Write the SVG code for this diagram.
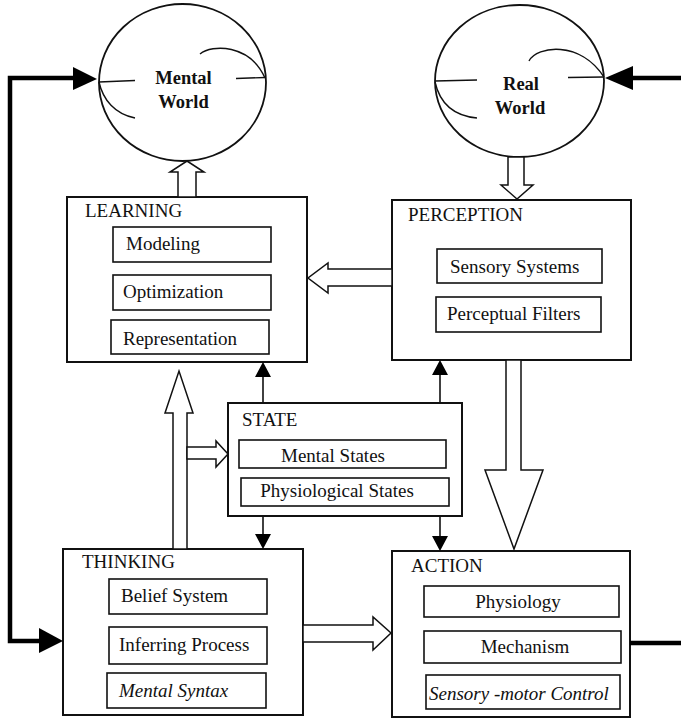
<svg xmlns="http://www.w3.org/2000/svg" width="681" height="719" viewBox="0 0 681 719">
<style>
text{font-family:"Liberation Serif","Times New Roman",serif;font-size:19px;fill:#111}
.b{font-weight:bold;font-size:18.5px}
.i{font-style:italic}
.box{fill:#fff;stroke:#111;stroke-width:2}
.sub{fill:#fff;stroke:#111;stroke-width:1.6}
.open{fill:#fff;stroke:#111;stroke-width:1.5;stroke-linejoin:miter}
.thin{stroke:#111;stroke-width:1.6;fill:none}
.thick{stroke:#000;stroke-width:4.5;fill:none}
.head{fill:#000}
.globe{fill:#fff;stroke:#111;stroke-width:1.8}
.curve{fill:none;stroke:#111;stroke-width:1.4}
</style>
<g id="mental-world">
<ellipse class="globe" cx="182.5" cy="82.5" rx="83.5" ry="78.5"/>
<path class="curve" d="M99,82 L135,80.5"/>
<path class="curve" d="M236,78.5 L265,77.5"/>
<path class="curve" d="M200,54 C212,44 250,44 265,78"/>
<path class="curve" d="M99,82 C103,100 115,114 135,118"/>
<text class="b" x="183.5" y="84" text-anchor="middle">Mental</text>
<text class="b" x="183.5" y="108" text-anchor="middle">World</text>
</g>
<g id="real-world">
<ellipse class="globe" cx="519.5" cy="81" rx="84.5" ry="76"/>
<path class="curve" d="M435,81 L477,80"/>
<path class="curve" d="M568,77.5 L604,77"/>
<path class="curve" d="M529,61 C537,46 580,40 604,77"/>
<path class="curve" d="M435,82 C440,104 455,116 477,118"/>
<text class="b" x="521" y="90" text-anchor="middle">Real</text>
<text class="b" x="520" y="114" text-anchor="middle">World</text>
</g>
<g id="learning">
<rect class="box" x="67" y="197" width="240" height="165"/>
<text x="85" y="217">LEARNING</text>
<rect class="sub" x="113" y="227" width="158" height="35"/>
<text x="126" y="250">Modeling</text>
<rect class="sub" x="113" y="275" width="158" height="35"/>
<text x="123" y="298">Optimization</text>
<rect class="sub" x="111" y="320" width="158" height="34"/>
<text x="123" y="345">Representation</text>
</g>
<g id="perception">
<rect class="box" x="392" y="200" width="239" height="160"/>
<text x="408" y="221">PERCEPTION</text>
<rect class="sub" x="437" y="249" width="165" height="34"/>
<text x="450" y="273">Sensory Systems</text>
<rect class="sub" x="436" y="297" width="165" height="35"/>
<text x="447" y="320">Perceptual Filters</text>
</g>
<g id="state">
<rect class="box" x="228" y="403" width="234" height="113"/>
<text x="242" y="426">STATE</text>
<rect class="sub" x="239" y="440" width="207" height="28"/>
<text x="333" y="462" text-anchor="middle">Mental States</text>
<rect class="sub" x="241" y="478" width="208" height="28"/>
<text x="337" y="497" text-anchor="middle">Physiological States</text>
</g>
<g id="thinking">
<rect class="box" x="63" y="549" width="240" height="166"/>
<text x="82" y="568">THINKING</text>
<rect class="sub" x="109" y="579" width="158" height="35"/>
<text x="121" y="602">Belief System</text>
<rect class="sub" x="109" y="627" width="158" height="37"/>
<text x="119" y="651">Inferring Process</text>
<rect class="sub" x="107" y="673" width="159" height="35"/>
<text class="i" x="119" y="697">Mental Syntax</text>
</g>
<g id="action">
<rect class="box" x="392" y="551" width="238" height="166"/>
<text x="411" y="572">ACTION</text>
<rect class="sub" x="424" y="586" width="195" height="31"/>
<text x="518" y="608" text-anchor="middle">Physiology</text>
<rect class="sub" x="424" y="631" width="197" height="32"/>
<text x="525" y="653" text-anchor="middle">Mechanism</text>
<rect class="sub" x="426" y="675" width="194" height="34"/>
<text class="i" x="429" y="700">Sensory -motor Control</text>
</g>
<g id="connectors">
<polygon class="open" points="178,197 178,172 170,172 187,161 204,172 196,172 196,197"/>
<polygon class="open" points="508,157 508,185 501,185 517,199 533,185 524,185 524,157"/>
<polygon class="open" points="392,269 328,269 328,263 308,278 328,293 328,286 392,286"/>
<polygon class="open" points="506,360 506,470 485,470 514,549 543,470 521,470 521,360"/>
<polygon class="open" points="173,549 173,413 165,413 179,371 193,413 187,413 187,549"/>
<polygon class="open" points="187,447 216,447 216,441 228,454 216,467 216,459 187,459"/>
<polygon class="open" points="303,625 373,625 373,617 391,633 373,650 373,642 303,642"/>
<line class="thin" x1="263" y1="403" x2="263" y2="374"/>
<polygon class="head" points="263,362 255,377 271,377"/>
<line class="thin" x1="440" y1="403" x2="440" y2="372"/>
<polygon class="head" points="440,360 432,375 448,375"/>
<line class="thin" x1="263" y1="516" x2="263" y2="537"/>
<polygon class="head" points="263,549 255,534 271,534"/>
<line class="thin" x1="440" y1="516" x2="440" y2="539"/>
<polygon class="head" points="440,551 432,536 448,536"/>
<polyline class="thick" points="75,78 10,78 10,641 42,641"/>
<polygon class="head" points="97,79 73,67 73,90"/>
<polygon class="head" points="63,641 39,628 39,653"/>
<line class="thick" x1="681" y1="78" x2="628" y2="78"/>
<polygon class="head" points="605,78 633,66 633,90"/>
<line class="thick" x1="630" y1="643" x2="681" y2="643"/>
</g>
</svg>
